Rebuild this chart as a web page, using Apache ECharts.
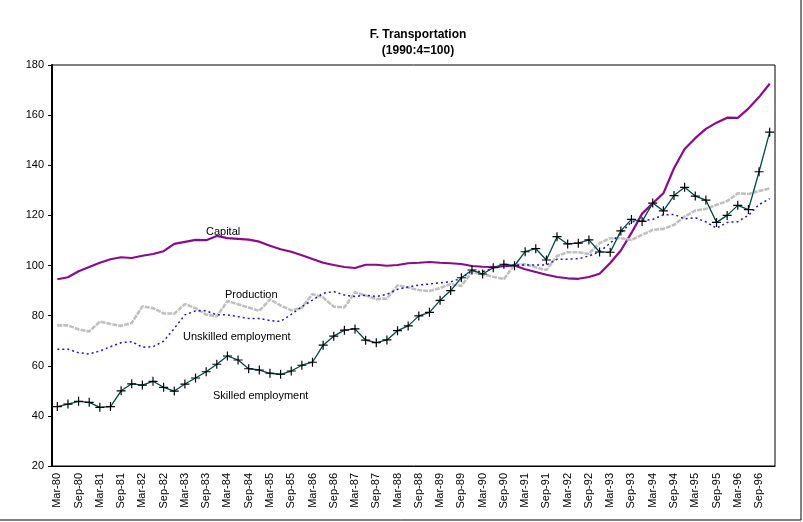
<!DOCTYPE html>
<html>
<head>
<meta charset="utf-8">
<script src="https://cdn.jsdelivr.net/npm/echarts@6/dist/echarts.min.js"></script>
<style>
  html, body { margin: 0; padding: 0; background: #fff; }
  #chart { width: 803px; height: 522px; }
</style>
</head>
<body>
<div id="chart"></div>
<script>
// quarters Mar-80 .. Dec-96
const months = ['Mar', 'Jun', 'Sep', 'Dec']
const quarters = []
for (let y = 80; y <= 96; y++) {
  for (const m of months) quarters.push(m + '-' + y)
}

const capital = [94.5, 95.3, 97.7, 99.4, 101.1, 102.5, 103.3, 103.0, 103.9, 104.6, 105.7, 108.6, 109.4, 110.2, 110.1, 111.8,
  110.9, 110.6, 110.3, 109.5, 107.9, 106.5, 105.5, 104.1, 102.6, 101.1, 100.2, 99.4, 99.0, 100.3, 100.3, 99.9,
  100.2, 100.9, 101.1, 101.4, 101.1, 100.9, 100.6, 99.8, 99.5, 99.4, 99.7, 100.0, 98.5, 97.4, 96.3, 95.4,
  94.9, 94.7, 95.4, 96.7, 101.0, 106.0, 113.0, 120.7, 124.8, 128.8, 138.8, 146.5, 150.8, 154.5, 157.0, 159.0,
  158.9, 162.6, 167.2, 172.5]

const production = [76.1, 76.1, 74.5, 73.7, 77.6, 76.7, 75.9, 77.1, 83.7, 83.0, 80.9, 80.8, 84.6, 83.0, 80.4, 79.7,
  85.8, 84.5, 83.2, 81.9, 86.5, 84.1, 82.1, 83.2, 88.6, 87.2, 83.6, 83.3, 89.3, 88.0, 86.6, 86.8,
  92.1, 91.2, 90.2, 89.8, 91.0, 92.6, 91.8, 97.5, 96.5, 95.5, 94.6, 100.2, 100.5, 99.3, 98.2, 103.8,
  105.3, 105.3, 104.6, 108.9, 110.9, 110.9, 110.2, 112.2, 114.2, 114.6, 116.2, 119.5, 121.9, 122.6, 124.2, 125.7,
  128.8, 128.5, 129.7, 130.8]

const unskilled = [66.6, 66.6, 65.2, 64.7, 65.9, 67.6, 69.2, 69.6, 67.4, 67.6, 69.8, 74.9, 80.3, 81.9, 81.9, 80.3,
  80.3, 79.6, 78.9, 78.9, 78.0, 77.7, 80.5, 83.6, 86.2, 88.9, 89.6, 88.2, 87.6, 88.2, 87.6, 88.5,
  90.5, 91.4, 92.2, 92.6, 93.1, 93.5, 94.9, 97.9, 97.5, 98.9, 99.8, 100.2, 100.2, 100.2, 100.2, 102.5,
  102.5, 102.7, 103.8, 105.5, 108.9, 112.9, 117.4, 117.9, 118.4, 120.2, 120.4, 118.6, 119.1, 117.4, 114.9, 117.2,
  117.5, 120.0, 124.3, 126.7]

const skilled = [43.7, 44.7, 45.8, 45.4, 43.4, 43.7, 50.0, 52.8, 52.3, 53.8, 51.4, 49.9, 52.7, 55.1, 57.6, 60.6,
  63.9, 62.3, 58.8, 58.3, 57.0, 56.6, 57.9, 60.2, 61.4, 68.2, 71.8, 74.2, 74.7, 70.2, 69.2, 70.3,
  74.0, 75.9, 79.9, 81.3, 86.1, 90.0, 95.1, 98.2, 96.6, 99.1, 100.5, 99.9, 105.5, 106.7, 102.2, 111.5,
  108.6, 108.9, 110.2, 105.4, 105.3, 113.8, 118.4, 117.6, 124.9, 121.8, 127.9, 131.2, 127.7, 126.1, 117.2, 120.0,
  124.0, 122.3, 137.4, 153.2]

const font = 'Liberation Sans, Arial, sans-serif'
const plus = 'path://M4,0h1.2v4h4v1.2h-4v4h-1.2v-4h-4v-1.2h4z'

const chart = echarts.init(document.getElementById('chart'))

const option = {
  animation: false,
  backgroundColor: '#fff',
  textStyle: { fontFamily: font },
  title: {
    text: 'F. Transportation\n(1990:4=100)',
    left: 413,
    top: 22,
    textAlign: 'center',
    textStyle: { fontFamily: font, fontSize: 12, fontWeight: 'bold', color: '#000', lineHeight: 16 }
  },
  grid: {
    left: 52, right: 28, top: 65, bottom: 56,
    show: true, borderColor: '#000', borderWidth: 1
  },
  xAxis: {
    type: 'category',
    data: quarters,
    boundaryGap: true,
    axisLine: { lineStyle: { color: '#000', width: 1 } },
    axisTick: { interval: 0, length: 4, lineStyle: { color: '#000' } },
    axisLabel: { interval: 1, rotate: 90, fontSize: 11, color: '#000', fontFamily: font, margin: 7 },
    splitLine: { show: false }
  },
  yAxis: {
    type: 'value',
    min: 20, max: 180, interval: 20,
    axisLine: { show: true, lineStyle: { color: '#000', width: 2 } },
    axisTick: { show: true, length: 4, lineStyle: { color: '#000' } },
    axisLabel: { fontSize: 11, color: '#000', fontFamily: font, margin: 8 },
    splitLine: { show: false }
  },
  series: [
    {
      name: 'Capital', type: 'line', data: capital, showSymbol: false,
      lineStyle: { color: '#8B0A8B', width: 2.2 }
    },
    {
      name: 'Production', type: 'line', data: production, showSymbol: false,
      lineStyle: { color: '#C0C0C0', width: 2.6, type: [5, 1] }
    },
    {
      name: 'Unskilled employment', type: 'line', data: unskilled, showSymbol: false,
      lineStyle: { color: '#1A1AB8', width: 1.5, type: [2, 3] }
    },
    {
      name: 'Skilled employment', type: 'line', data: skilled,
      symbol: plus, symbolSize: 9, showAllSymbol: true,
      itemStyle: { color: '#000' },
      lineStyle: { color: '#004848', width: 1.3 }
    }
  ],
  graphic: [
    { type: 'text', left: 206, top: 226, style: { text: 'Capital', font: '11px ' + font, fill: '#000' } },
    { type: 'text', left: 225, top: 289, style: { text: 'Production', font: '11px ' + font, fill: '#000' } },
    { type: 'text', left: 183, top: 331, style: { text: 'Unskilled employment', font: '11px ' + font, fill: '#000' } },
    { type: 'text', left: 213, top: 390, style: { text: 'Skilled employment', font: '11px ' + font, fill: '#000' } },
    { type: 'line', shape: { x1: 0, y1: 520, x2: 801, y2: 520 }, style: { stroke: '#000', lineWidth: 1 } },
    { type: 'line', shape: { x1: 801, y1: 0, x2: 801, y2: 520 }, style: { stroke: '#000', lineWidth: 1 } }
  ]
}

chart.setOption(option)
</script>
</body>
</html>
